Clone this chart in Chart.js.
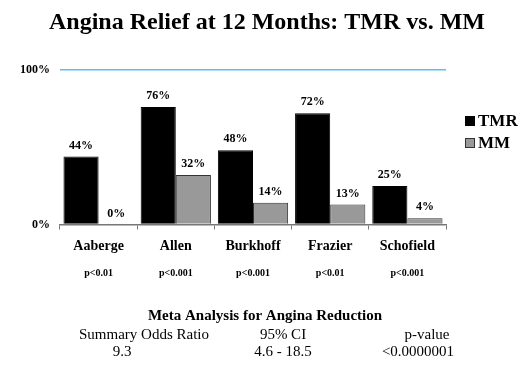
<!DOCTYPE html>
<html>
<head>
<meta charset="utf-8">
<script src="https://cdn.jsdelivr.net/npm/chart.js@4"></script>
<style>
  html, body { margin: 0; padding: 0; background: #fff; }
  #wrap { width: 531px; height: 368px; }
</style>
</head>
<body>
<div id="wrap"><canvas id="myChart" width="531" height="368"></canvas></div>
<script>
const studies = ['Aaberge', 'Allen', 'Burkhoff', 'Frazier', 'Schofield'];
const tmrValues = [44, 76, 48, 72, 25];
const mmValues = [0, 32, 14, 13, 4];
const pValues = ['p<0.01', 'p<0.001', 'p<0.001', 'p<0.01', 'p<0.001'];
const yTicks = [0, 100];
const metaTitle = 'Meta Analysis for Angina Reduction';
const metaHeaders = ['Summary Odds Ratio', '95% CI', 'p-value'];
const metaValues = ['9.3', '4.6 - 18.5', '<0.0000001'];

const serif = "'Liberation Serif', 'Times New Roman', serif";

// draws title, bar value labels, legend, p-values and the meta table
const extras = {
  id: 'extras',
  afterDraw(chart) {
    const { ctx } = chart;
    const x = chart.scales.x;
    ctx.save();
    ctx.fillStyle = '#000';
    ctx.textAlign = 'center';
    ctx.textBaseline = 'middle';

    ctx.font = `bold 24px ${serif}`;
    ctx.fillText('Angina Relief at 12 Months: TMR vs. MM', 267, 23);

    ctx.font = `bold 12px ${serif}`;
    chart.data.datasets.forEach((ds, i) => {
      chart.getDatasetMeta(i).data.forEach((el, j) => {
        ctx.fillText(ds.data[j] + '%', el.x, el.y - 11);
      });
    });

    ctx.font = `bold 10px ${serif}`;
    pValues.forEach((p, i) => {
      ctx.fillText(p, x.getPixelForValue(i), 273);
    });

    // legend
    ctx.textAlign = 'left';
    ctx.font = `bold 17px ${serif}`;
    chart.data.datasets.forEach((ds, i) => {
      const cy = 121 + i * 22;
      ctx.fillStyle = ds.backgroundColor;
      ctx.fillRect(465, cy - 5, 10, 10);
      ctx.strokeStyle = ds.borderColor;
      ctx.lineWidth = 1;
      ctx.strokeRect(465.5, cy - 4.5, 9, 9);
      ctx.fillStyle = '#000';
      ctx.fillText(ds.label, 478, cy + 1);
    });

    // meta analysis table
    ctx.textAlign = 'center';
    ctx.font = `bold 15px ${serif}`;
    ctx.fillText(metaTitle, 265, 316);
    ctx.font = `15px ${serif}`;
    const cols = [144, 283, 427];
    metaHeaders.forEach((t, i) => ctx.fillText(t, cols[i], 335));
    const valCols = [122, 283, 418];
    metaValues.forEach((t, i) => ctx.fillText(t, valCols[i], 352));
    ctx.restore();
  }
};

new Chart(document.getElementById('myChart').getContext('2d'), {
  type: 'bar',
  data: {
    labels: studies,
    datasets: [
      {
        label: 'TMR',
        data: tmrValues,
        backgroundColor: '#000000',
        borderColor: '#000000',
        borderWidth: 1,
      },
      {
        label: 'MM',
        data: mmValues,
        backgroundColor: '#999999',
        borderColor: '#333333',
        borderWidth: 1,
      },
    ],
  },
  options: {
    responsive: false,
    animation: false,
    layout: { padding: { top: 70, left: 0, right: 85, bottom: 113.5 } },
    plugins: {
      legend: { display: false },
      tooltip: { enabled: false },
      title: { display: false },
    },
    datasets: {
      bar: { categoryPercentage: 0.91, barPercentage: 1.0 },
    },
    scales: {
      x: {
        afterFit(scale) { scale.height = 30; },
        border: { display: true, color: '#777777', width: 1.5 },
        grid: {
          display: true,
          drawOnChartArea: false,
          drawTicks: true,
          tickLength: 5,
          color: '#777777',
          offset: true,
        },
        ticks: {
          color: '#000',
          padding: 8,
          font: { family: serif, size: 14, weight: 'bold' },
        },
      },
      y: {
        min: 0,
        max: 100,
        afterFit(scale) { scale.width = 60; },
        afterBuildTicks(scale) { scale.ticks = yTicks.map(v => ({ value: v })); },
        border: { display: false },
        grid: {
          drawTicks: false,
          lineWidth: 1.5,
          color: (c) => (c.tick && c.tick.value === 100 ? '#55c3e6' : 'transparent'),
        },
        ticks: {
          color: '#000',
          padding: 10,
          font: { family: serif, size: 12, weight: 'bold' },
          callback: (v) => v + '%',
        },
      },
    },
  },
  plugins: [extras],
});
</script>
</body>
</html>
